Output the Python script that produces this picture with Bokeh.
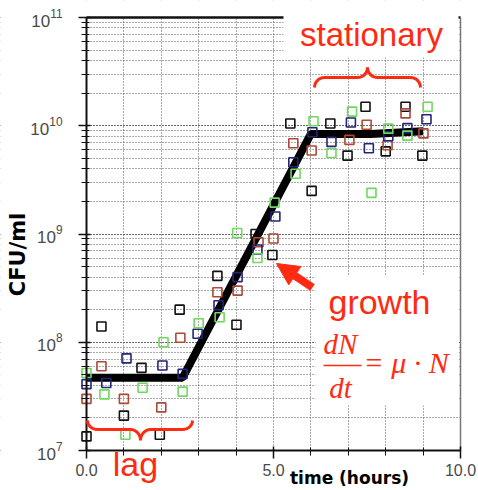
import numpy as np
from bokeh.plotting import figure
from bokeh.models import (FixedTicker, NumeralTickFormatter, Label, Arrow, NormalHead, Range1d)
from bokeh.embed import file_html
from bokeh.resources import INLINE

# ---- data ----
black_t = [0, 0.4, 1.0, 1.47, 1.96, 2.49, 3.5, 4.01, 4.52, 4.97, 5.45, 6.02, 6.52, 6.98, 7.46, 8.0, 8.53, 8.98]
black_v = [1.35e7, 1.4e8, 2.1e7, 5.8e7, 1.4e7, 2.0e8, 4.1e8, 1.45e8, 1.0e9, 6.4e8, 1.05e10, 2.5e9, 1.05e10, 5.3e9, 1.5e10, 5.8e9, 1.5e10, 5.3e9]

red_t = [0, 0.4, 1.0, 2.0, 2.51, 3.5, 4.04, 4.6, 5.0, 5.53, 6.02, 7.03, 7.49, 8.05, 8.53, 9.01]
red_v = [3.0e7, 6.0e7, 3.0e7, 2.5e7, 1.1e8, 2.9e8, 3.0e8, 8.4e8, 9.1e8, 6.9e9, 5.9e9, 7.4e9, 1.02e10, 6.6e9, 1.3e10, 8.5e9]

blue_t = [0, 0.53, 1.07, 2.03, 2.57, 2.97, 3.53, 4.04, 4.57, 5.05, 5.53, 6.04, 6.55, 7.07, 7.55, 8.07, 8.58, 9.09]
blue_v = [4.1e7, 4.2e7, 7.1e7, 6.1e7, 5.1e7, 1.2e8, 2.2e8, 4.0e8, 7.2e8, 1.45e9, 4.6e9, 8.7e9, 7.1e9, 1.07e10, 6.2e9, 8.0e9, 9.5e9, 1.15e10]

green_t = [0, 0.48, 1.04, 1.5, 2.06, 2.57, 3.0, 3.56, 4.03, 4.57, 5.03, 5.59, 6.07, 6.55, 7.1, 7.62, 8.07, 8.58, 9.12]
green_v = [5.2e7, 3.3e7, 1.4e7, 3.8e7, 1.0e8, 3.5e7, 1.5e8, 1.7e8, 1.02e9, 6.0e8, 1.95e9, 3.6e9, 1.1e10, 5.6e9, 1.35e10, 2.4e9, 9.4e9, 8.1e9, 1.5e10]

fit_t = [0, 2.57, 6.0, 7.6, 9.0]
fit_v = [4.7e7, 4.7e7, 8.4e9, 8.4e9, 8.9e9]

x_min, x_max = 0, 10
y_min, y_max = 1e7, 1e11
x_ticks = [0, 5, 10]
x_minor = list(range(0, 11))

RED = "#ff2a12"

# geometry of the plotting box on the canvas (pixels)
W, H = 478, 490
BOX_L, BOX_R, BOX_T, BOX_B = 86, 460, 17, 450
PX_PER_X = (BOX_R - BOX_L) / (x_max - x_min)
PX_PER_DEC = (BOX_B - BOX_T) / (np.log10(y_max) - np.log10(y_min))


def dx(px):
    return x_min + (px - BOX_L) / PX_PER_X


def dy(py):
    return 10 ** (np.log10(y_min) + (BOX_B - py) / PX_PER_DEC)


XS, XE = dx(0), dx(W)
YS, YE = dy(H), dy(0)

p = figure(width=W, height=H, y_axis_type="log", output_backend="svg", toolbar_location=None,
           x_range=Range1d(XS, XE), y_range=Range1d(YS, YE), min_border=0)
p.background_fill_color = "white"
p.border_fill_color = "white"
p.outline_line_color = None

p.xaxis.fixed_location = y_min
p.yaxis.fixed_location = x_min
p.xaxis.bounds = (x_min, x_max)
p.yaxis.bounds = (y_min, y_max)

for ax in (p.xaxis[0], p.yaxis[0]):
    ax.axis_line_color = "#111111"
    ax.axis_line_width = 2
    ax.major_tick_line_color = "#111111"
    ax.minor_tick_line_color = "#111111"
    ax.major_tick_line_width = 1.5
    ax.major_tick_in = 4
    ax.major_tick_out = 8
    ax.minor_tick_in = 3
    ax.minor_tick_out = 5
    ax.major_label_text_color = "#4a4a4a"
    ax.major_label_text_font = "Liberation Sans"

p.xaxis.major_label_text_font_size = "16px"
p.yaxis.major_label_text_font_size = "17px"
p.xaxis.ticker = FixedTicker(ticks=x_ticks, minor_ticks=x_minor)
p.xaxis.formatter = NumeralTickFormatter(format="0.0")
p.xaxis.major_label_standoff = 5
p.yaxis.major_label_standoff = 16

# dotted grid
p.xgrid.ticker = FixedTicker(ticks=x_minor)
for g in (p.xgrid[0], p.ygrid[0]):
    g.grid_line_color = "#555555"
    g.grid_line_dash = "1 2"
    g.grid_line_width = 1
p.ygrid.minor_grid_line_color = "#555555"
p.ygrid.minor_grid_line_dash = "1 2"
p.ygrid.minor_grid_line_width = 1

# white margins outside the plotting box (hide grid there)
p.quad(left=[XS, x_max, XS, XS], right=[x_min, XE, XE, XE],
       bottom=[YS, YS, YS, y_max], top=[YE, YE, y_min, YE],
       fill_color="white", line_color=None)

# frame borders (top, right)
p.line([x_min, x_max], [y_max, y_max], line_color="#111111", line_width=2.5)
p.line([x_max, x_max], [y_min, y_max], line_color="#777777", line_width=1.5)

# white boxes behind annotations
p.quad(left=[dx(283), dx(315)], right=[dx(458), dx(458)], bottom=[dy(57), dy(405)],
       top=[dy(5), dy(275)], fill_color="white", line_color=None)

# fitted growth curve
p.line(fit_t, fit_v, line_color="black", line_width=8)

# data squares
for t, v, c in ((black_t, black_v, "#111111"), (red_t, red_v, "#b04838"),
                (blue_t, blue_v, "#25257a"), (green_t, green_v, "#6fd85e")):
    p.scatter(t, v, marker="square", size=9, fill_alpha=0, line_color=c, line_width=1.6)


def brace(px0, px1, pxm, py_end, py_bar, py_tip, r=10, n=10):
    """curly brace path, defined in canvas pixels, returned in data coordinates"""
    th = np.linspace(0, np.pi / 2, n)
    s, c = np.sin(th), np.cos(th)
    d1, d2 = py_bar - py_end, py_tip - py_bar
    xs = np.concatenate([px0 + r - r * c, pxm - r + r * s, pxm + r - r * c, px1 - r + r * s])
    ys = np.concatenate([py_end + d1 * s, py_tip - d2 * c, py_tip - d2 * s, py_end + d1 * c])
    return dx(xs), dy(ys)


bx, by = brace(314, 420, 367, 87, 77, 67)
p.line(bx, by, line_color=RED, line_width=3, level="overlay")
lx, ly = brace(87, 192, 140, 420, 429, 440)
p.line(lx, ly, line_color=RED, line_width=3, level="overlay")

# arrow
p.add_layout(Arrow(end=NormalHead(size=22, fill_color=RED, line_color=RED),
                   x_start=dx(312), y_start=dy(287), x_end=dx(276), y_end=dy(263),
                   line_color=RED, line_width=8, level="overlay"))


def lab(px, py, txt, size, font="Liberation Sans", style="normal", align="center",
        color=RED, angle=0, baseline="alphabetic"):
    # py: wanted baseline in canvas px; Bokeh draws the alphabetic baseline ~0.34em lower
    shift = 0.34 * size if baseline == "alphabetic" else 0
    p.add_layout(Label(x=dx(px), y=dy(py - shift), text=txt, text_font=font,
                       text_font_size=f"{size}px", text_font_style=style, text_align=align,
                       text_color=color, text_baseline=baseline, angle=angle, level="overlay"))


lab(371, 45, "stationary", 33)
lab(379, 313, "growth", 34)
lab(135, 475, "lag", 34)
lab(340, 353, "dN", 29, font="Liberation Serif", style="italic")
lab(340, 397, "dt", 29, font="Liberation Serif", style="italic")
lab(363, 372, "= μ · N", 30, font="Liberation Serif", style="italic", align="left")
p.line([dx(323), dx(361)], [dy(365), dy(365)], line_color=RED, line_width=1.5, level="overlay")

# axis titles
lab(349, 483, "time (hours)", 17, font="DejaVu Sans", style="bold", color="black")
lab(17, 254, "CFU/ml", 21, font="DejaVu Sans", style="bold", color="black",
    angle=np.pi / 2, baseline="middle")

open("out.html", "w").write(file_html(p, INLINE))
